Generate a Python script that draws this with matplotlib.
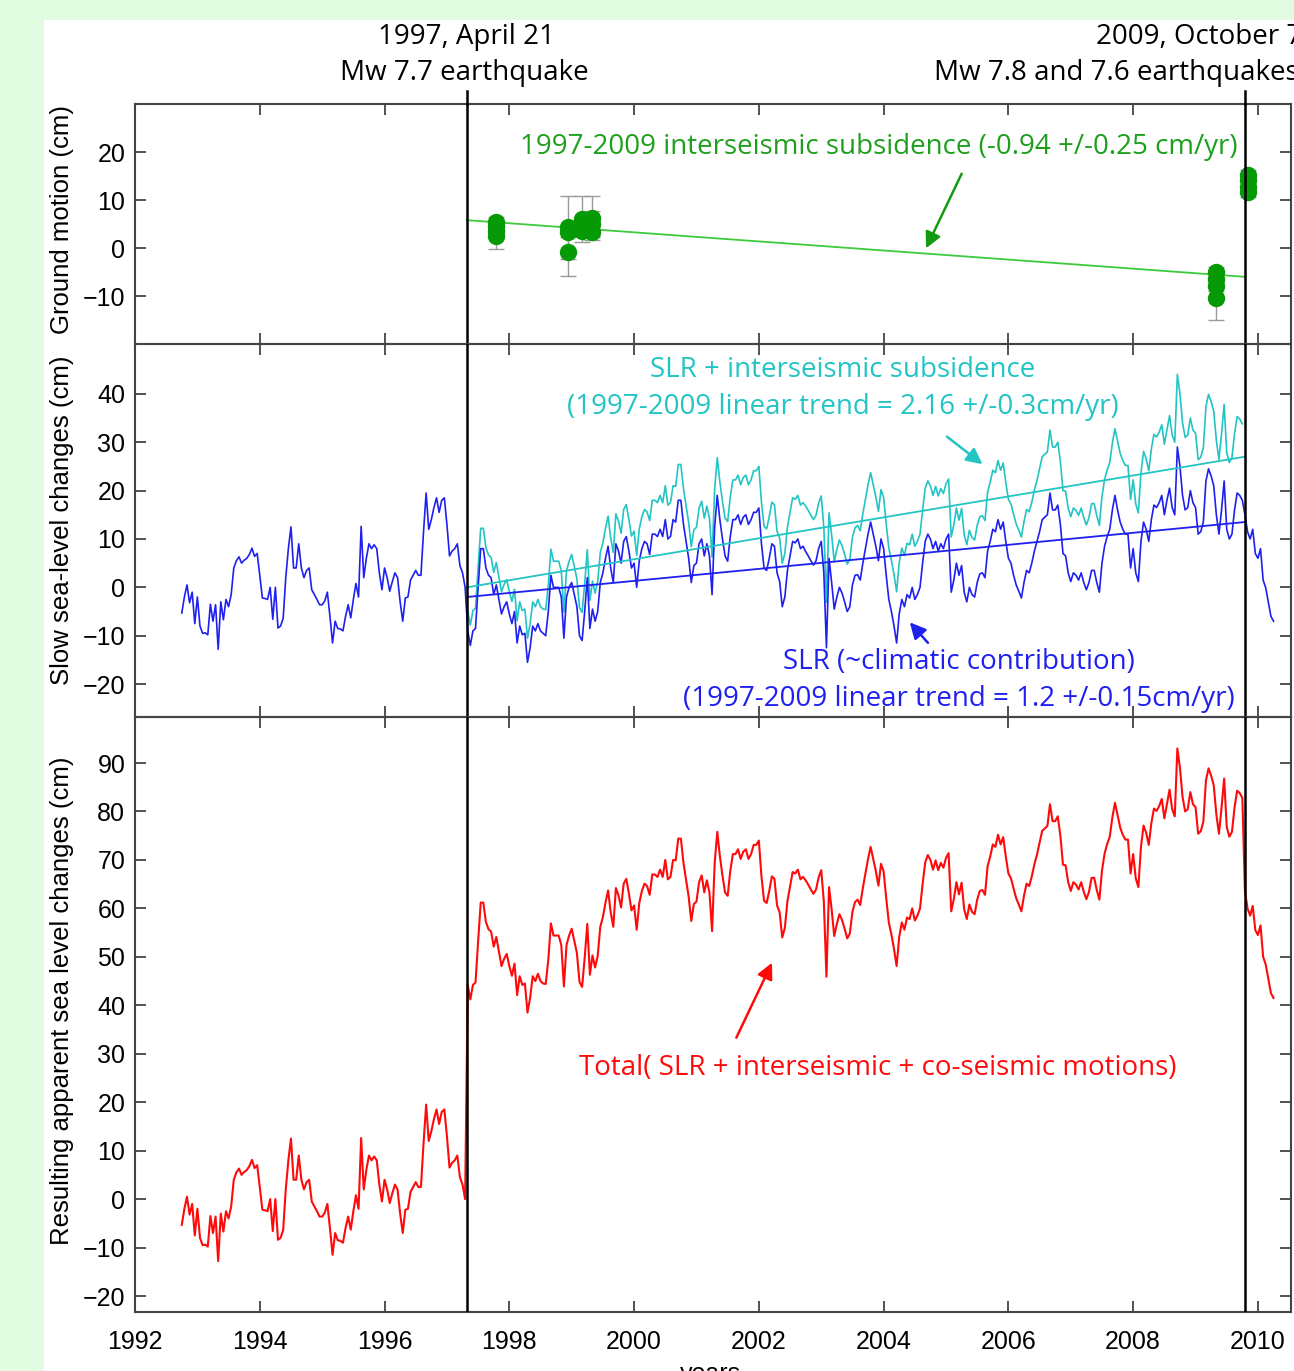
import numpy as np
import matplotlib.pyplot as plt
from matplotlib.patches import Rectangle

# --- data (cm), half-monthly samples starting 1992.75 ---
t_start = 1992.75
step = 1.0 / 24

slr_cm = [
    -5.3, -2.0, 0.5, -3.2, -1.0, -7.5, -2.0, -8.0, -9.5, -9.4,
    -9.8, -3.5, -7.0, -3.6, -12.8, -3.0, -6.7, -2.5, -4.0, -1.5,
    4.0, 5.5, 6.3, 5.0, 5.6, 6.0, 6.8, 8.1, 6.4, 7.0,
    2.5, -2.2, -2.3, -2.5, 0.0, -6.6, 0.0, -8.4, -8.0, -6.4,
    2.0, 8.0, 12.5, 4.0, 4.0, 9.0, 4.0, 2.0, 3.5, 4.0,
    -0.5, -1.5, -2.5, -3.6, -3.6, -2.8, -1.0, -6.0, -11.5, -7.0,
    -8.5, -8.6, -9.0, -6.0, -3.6, -6.3, -2.5, 0.8, -2.0, 12.6,
    2.0, 6.0, 9.0, 8.0, 8.8, 8.0, 3.0, -0.5, 4.0, 2.0,
    -0.8, 1.2, 3.0, 2.0, -3.0, -7.0, -2.2, -2.0, 1.5, 2.5,
    3.5, 2.5, 2.5, 11.5, 19.5, 12.0, 14.0, 16.5, 18.5, 15.5,
    18.0, 18.5, 13.0, 6.5, 7.5, 8.0, 9.0, 4.5, 3.0, 0.0,
    -9.0, -12.0, -9.0, -8.5, 0.0, 8.0, 8.0, 4.0, 2.5, 2.0,
    -1.5, 0.5, -2.5, -5.5, -4.0, -3.0, -5.5, -7.5, -5.0, -11.5,
    -8.0, -9.8, -9.5, -15.5, -12.5, -8.0, -9.0, -7.5, -9.0, -9.5,
    -10.0, -5.0, 2.5, 0.0, 0.0, 0.0, -2.0, -10.5, -2.0, 0.0,
    1.0, -1.5, -4.0, -10.0, -11.0, -5.0, 2.0, -8.5, -4.5, -7.0,
    -5.0, 1.0, 3.0, 6.0, 8.5, 4.0, 1.0, 9.0, 7.5, 5.0,
    9.5, 10.5, 7.5, 4.0, 5.0, 0.0, 5.5, 8.0, 9.5, 9.0,
    6.8, 11.0, 11.0, 10.5, 12.0, 10.5, 14.0, 10.0, 10.5, 14.0,
    13.5, 18.0, 18.0, 13.0, 9.5, 6.0, 1.0, 4.5, 5.0, 9.0,
    10.0, 6.5, 9.0, 6.5, -1.5, 12.5, 19.0, 14.0, 10.0, 6.5,
    5.4, 10.5, 14.0, 14.0, 15.0, 13.0, 14.5, 15.0, 13.0, 14.0,
    15.5, 15.5, 16.4, 9.0, 4.0, 3.5, 6.0, 9.0, 8.5, 3.0,
    1.2, -4.0, -2.0, 3.5, 6.5, 9.5, 9.2, 10.0, 8.0, 8.5,
    7.4, 6.5, 5.5, 4.6, 5.5, 8.0, 9.5, 3.0, -12.5, 6.0,
    1.0, -4.5, -2.0, 0.0, -1.2, -3.0, -5.0, -4.0, 0.5, 2.5,
    2.6, 1.5, 5.0, 8.0, 11.0, 13.5, 11.0, 8.5, 5.5, 10.0,
    8.0, 2.5, -2.5, -5.0, -8.0, -11.5, -5.5, -2.5, -4.0, -1.5,
    -2.2, 0.0, -2.5, -1.5, 0.0, 5.0, 9.5, 11.0, 10.0, 8.0,
    9.5, 7.5, 9.0, 8.0, 10.0, 11.0, -1.0, 1.5, 5.0, 2.5,
    4.5, -1.0, -3.0, 0.0, -1.5, -2.0, 1.0, 2.8, 3.0, 2.0,
    7.5, 9.5, 12.0, 11.5, 14.0, 12.0, 13.5, 9.5, 6.0, 5.0,
    2.5, 0.5, -0.8, -2.2, 1.0, 3.5, 3.0, 5.0, 7.5, 9.5,
    11.5, 14.0, 14.5, 15.0, 19.5, 16.0, 16.0, 17.0, 13.0, 7.0,
    6.5, 3.0, 1.2, 3.0, 2.5, 1.5, 3.0, 1.0, -0.5, 1.0,
    3.5, 3.5, 1.0, -1.0, 5.0, 8.5, 10.5, 12.0, 16.0, 19.0,
    16.0, 13.5, 12.0, 11.0, 11.0, 4.0, 8.0, 3.0, 1.2, 9.5,
    13.5, 12.0, 9.5, 14.0, 17.0, 16.5, 17.5, 19.0, 15.0, 18.0,
    20.5, 16.5, 15.0, 29.0, 25.0, 19.0, 16.0, 16.5, 20.0, 17.5,
    16.5, 11.0, 11.5, 13.5, 22.0, 24.5, 23.0, 21.0, 15.0, 11.0,
    16.0, 22.0, 12.0, 10.0, 11.0, 16.0, 19.5, 19.0, 18.0, 15.0,
    11.5, 10.0, 12.0, 7.0, 6.0, 8.0, 1.5, -0.1, -3.0, -6.0, -7.0,
]

# SLR + interseismic subsidence, from sample 110 (1997.33) to 408
subs_first = 110
slr_subs_cm = [
    -4.8, -7.8, -4.8, -4.3, 4.2, 12.2, 12.2, 8.2, 6.7, 6.2,
    3.1, 5.1, 2.1, -0.9, 0.6, 1.6, -0.9, -2.9, -0.4, -6.9,
    -3.0, -4.8, -4.5, -10.5, -7.5, -3.0, -4.0, -2.5, -4.0, -4.5,
    -4.6, 0.4, 7.9, 5.4, 5.4, 5.4, 3.4, -5.1, 3.4, 5.4,
    6.8, 4.3, 1.8, -4.2, -5.2, 0.8, 7.8, -2.7, 1.3, -1.2,
    1.2, 7.2, 9.2, 12.2, 14.7, 10.2, 7.2, 15.2, 13.7, 11.2,
    16.1, 17.1, 14.1, 10.6, 11.6, 6.6, 12.1, 14.6, 16.1, 15.6,
    13.8, 18.0, 18.0, 17.5, 19.0, 17.5, 21.0, 17.0, 17.5, 21.0,
    20.9, 25.4, 25.4, 20.4, 16.9, 13.4, 8.4, 11.9, 12.4, 16.4,
    17.8, 14.3, 16.8, 14.3, 6.3, 20.3, 26.8, 21.8, 17.8, 14.3,
    13.6, 18.7, 22.2, 22.2, 23.2, 21.2, 22.7, 23.2, 21.2, 22.2,
    24.1, 24.1, 25.0, 17.6, 12.6, 12.1, 14.6, 17.6, 17.1, 11.6,
    10.2, 5.0, 7.0, 12.5, 15.5, 18.5, 18.2, 19.0, 17.0, 17.5,
    16.8, 15.9, 14.9, 14.0, 14.9, 17.4, 18.9, 12.4, -3.1, 15.4,
    10.8, 5.3, 7.8, 9.8, 8.6, 6.8, 4.8, 5.8, 10.3, 12.3,
    12.8, 11.7, 15.2, 18.2, 21.2, 23.7, 21.2, 18.7, 15.7, 20.2,
    18.6, 13.1, 8.1, 5.6, 2.6, -0.9, 5.1, 8.1, 6.6, 9.1,
    8.8, 11.0, 8.5, 9.5, 11.0, 16.0, 20.5, 22.0, 21.0, 19.0,
    20.9, 18.9, 20.4, 19.4, 21.4, 22.4, 10.4, 12.9, 16.4, 13.9,
    16.3, 10.8, 8.8, 11.8, 10.3, 9.8, 12.8, 14.6, 14.8, 13.8,
    19.7, 21.7, 24.2, 23.7, 26.2, 24.2, 25.7, 21.7, 18.2, 17.2,
    15.1, 13.1, 11.8, 10.4, 13.6, 16.1, 15.6, 17.6, 20.1, 22.1,
    24.5, 27.0, 27.5, 28.0, 32.5, 29.0, 29.0, 30.0, 26.0, 20.0,
    19.9, 16.4, 14.6, 16.4, 15.9, 14.9, 16.4, 14.4, 12.9, 14.4,
    17.3, 17.3, 14.8, 12.8, 18.8, 22.3, 24.3, 25.8, 29.8, 32.8,
    30.2, 27.7, 26.2, 25.2, 25.2, 18.2, 22.2, 17.2, 15.4, 23.7,
    28.1, 26.6, 24.1, 28.6, 31.6, 31.1, 32.1, 33.6, 29.6, 32.6,
    35.5, 31.5, 30.0, 44.0, 40.0, 34.0, 31.0, 31.5, 35.0, 32.5,
    31.9, 26.4, 26.9, 28.9, 37.4, 39.9, 38.4, 36.4, 30.4, 26.4,
    31.8, 37.8, 27.8, 25.8, 26.8, 31.8, 35.3, 34.8, 33.8,
]

# total apparent sea level: before 1997 quake it is the SLR record itself
total_after_cm = [
    44.2, 41.2, 44.2, 44.7, 53.2, 61.2, 61.2, 57.2, 55.7, 55.2,
    52.1, 54.1, 51.1, 48.1, 49.6, 50.6, 48.1, 46.1, 48.6, 42.1,
    46.0, 44.2, 44.5, 38.5, 41.5, 46.0, 45.0, 46.5, 45.0, 44.5,
    44.4, 49.4, 56.9, 54.4, 54.4, 54.4, 52.4, 43.9, 52.4, 54.4,
    55.8, 53.3, 50.8, 44.8, 43.8, 49.8, 56.8, 46.3, 50.3, 47.8,
    50.2, 56.2, 58.2, 61.2, 63.7, 59.2, 56.2, 64.2, 62.7, 60.2,
    65.1, 66.1, 63.1, 59.6, 60.6, 55.6, 61.1, 63.6, 65.1, 64.6,
    62.8, 67.0, 67.0, 66.5, 68.0, 66.5, 70.0, 66.0, 66.5, 70.0,
    69.9, 74.4, 74.4, 69.4, 65.9, 62.4, 57.4, 60.9, 61.4, 65.4,
    66.8, 63.3, 65.8, 63.3, 55.3, 69.3, 75.8, 70.8, 66.8, 63.3,
    62.6, 67.7, 71.2, 71.2, 72.2, 70.2, 71.7, 72.2, 70.2, 71.2,
    73.1, 73.1, 74.0, 66.6, 61.6, 61.1, 63.6, 66.6, 66.1, 60.6,
    59.2, 54.0, 56.0, 61.5, 64.5, 67.5, 67.2, 68.0, 66.0, 66.5,
    65.8, 64.9, 63.9, 63.0, 63.9, 66.4, 67.9, 61.4, 45.9, 64.4,
    59.8, 54.3, 56.8, 58.8, 57.6, 55.8, 53.8, 54.8, 59.3, 61.3,
    61.8, 60.7, 64.2, 67.2, 70.2, 72.7, 70.2, 67.7, 64.7, 69.2,
    67.6, 62.1, 57.1, 54.6, 51.6, 48.1, 54.1, 57.1, 55.6, 58.1,
    57.8, 60.0, 57.5, 58.5, 60.0, 65.0, 69.5, 71.0, 70.0, 68.0,
    69.9, 67.9, 69.4, 68.4, 70.4, 71.4, 59.4, 61.9, 65.4, 62.9,
    65.3, 59.8, 57.8, 60.8, 59.3, 58.8, 61.8, 63.6, 63.8, 62.8,
    68.7, 70.7, 73.2, 72.7, 75.2, 73.2, 74.7, 70.7, 67.2, 66.2,
    64.1, 62.1, 60.8, 59.4, 62.6, 65.1, 64.6, 66.6, 69.1, 71.1,
    73.5, 76.0, 76.5, 77.0, 81.5, 78.0, 78.0, 79.0, 75.0, 69.0,
    68.9, 65.4, 63.6, 65.4, 64.9, 63.9, 65.4, 63.4, 61.9, 63.4,
    66.3, 66.3, 63.8, 61.8, 67.8, 71.3, 73.3, 74.8, 78.8, 81.8,
    79.2, 76.7, 75.2, 74.2, 74.2, 67.2, 71.2, 66.2, 64.4, 72.7,
    77.1, 75.6, 73.1, 77.6, 80.6, 80.1, 81.1, 82.6, 78.6, 81.6,
    84.5, 80.5, 79.0, 93.0, 89.0, 83.0, 80.0, 80.5, 84.0, 81.5,
    80.9, 75.4, 75.9, 77.9, 86.4, 88.9, 87.4, 85.4, 79.4, 75.4,
    80.8, 86.8, 76.8, 74.8, 75.8, 80.8, 84.3, 83.8, 82.8,
    63.5, 60.0, 58.5, 60.5, 55.5, 54.5, 56.5, 50.0, 48.4, 45.5, 42.5, 41.5,
]
total_cm = slr_cm[:subs_first] + total_after_cm

# GPS / ground motion points
gps_year = [1997.79, 1997.79, 1997.79, 1997.79,
            1998.94, 1998.94, 1998.94,
            1999.16, 1999.16, 1999.16,
            1999.33, 1999.33, 1999.33,
            2009.33, 2009.33, 2009.33, 2009.33,
            2009.84, 2009.84, 2009.84, 2009.84]
gps_cm = [5.5, 4.5, 3.5, 2.5,
          4.3, 3.3, -0.9,
          6.0, 4.8, 3.5,
          6.2, 5.0, 3.4,
          -5.0, -6.5, -8.0, -10.5,
          15.3, 14.2, 12.8, 11.6]
gps_err = [1.0, 1.0, 1.0, 2.7,
           6.5, 1.0, 5.0,
           4.8, 1.0, 1.0,
           4.6, 2.7, 1.0,
           1.0, 1.0, 1.0, 4.5,
           1.0, 1.0, 1.0, 1.0]

event_years = [1997.32, 2009.79]
trend_years = [1997.32, 2009.79]
ground_trend = [5.8, -6.0]
subs_trend = [0.0, 27.0]
slr_trend = [-2.0, 13.5]

# --- figure ---
W, H = 1294, 1371
fig = plt.figure(figsize=(W / 100, H / 100), dpi=100, facecolor='#e2fce2')
fig.patches.append(Rectangle((44 / W, 0), 1 - 44 / W, 1 - 20 / H,
                             transform=fig.transFigure, facecolor='white',
                             edgecolor='none', zorder=-10))

tick_font = 'Liberation Sans'
note_font = 'Open Sans'
note_size = 20
green_txt = '#1ea01e'
cyan = '#22c4c4'
blue = '#1f1ff0'
red = '#ff0a0a'

left = 135 / W
width = (1291 - 135) / W
ax_top = fig.add_axes([left, 1 - 344 / H, width, 240 / H])
ax_mid = fig.add_axes([left, 1 - 717 / H, width, 373 / H])
ax_bot = fig.add_axes([left, 1 - 1312 / H, width, 595 / H])

for ax in (ax_top, ax_mid, ax_bot):
    ax.set_facecolor('none')
    ax.set_xlim(1992, 2010.53)
    ax.set_xticks(np.arange(1992, 2011, 2))
    ax.tick_params(direction='in', length=8, width=1.2, top=True, right=True,
                   labelsize=18, pad=7, colors='#333333', labelcolor='black')
    ax.tick_params(axis='x', pad=13)
    for s in ax.spines.values():
        s.set_color('#444444')
        s.set_linewidth(1.5)
    for ev in event_years:
        ax.axvline(ev, color='black', lw=1.8, zorder=5)

ax_top.tick_params(labelbottom=False)
ax_mid.tick_params(labelbottom=False)

# top panel: ground motion
ax_top.set_ylim(-20, 30)
ax_top.set_yticks([-10, 0, 10, 20])
for ev in event_years:
    ax_top.plot([ev, ev], [30, 32.7], color='black', lw=1.8, clip_on=False, zorder=5)
ax_top.plot(trend_years, ground_trend, color='#3ccc3c', lw=1.3, zorder=3)
ax_top.errorbar(gps_year, gps_cm, yerr=gps_err, fmt='o', color='#079a07',
                ms=11.5, ecolor='#9a9a9a', elinewidth=1.0, capsize=6, capthick=1.0,
                zorder=4)
ax_top.text(2003.93, 21.0, '1997-2009 interseismic subsidence (-0.94 +/-0.25 cm/yr)',
            color=green_txt, fontsize=note_size, family=note_font, ha='center', va='center')
ax_top.annotate('', xy=(2004.66, -0.6), xytext=(2005.27, 16.0),
                arrowprops=dict(arrowstyle='-|>', color='#139a13', lw=1.8,
                                mutation_scale=24))

# middle panel: slow sea-level changes
ax_mid.set_ylim(-26.8, 50.3)
ax_mid.set_yticks(np.arange(-20, 41, 10))
t_slr = t_start + np.arange(len(slr_cm)) * step
t_subs = t_start + (subs_first + np.arange(len(slr_subs_cm))) * step
ax_mid.plot(t_subs, slr_subs_cm, color=cyan, lw=1.2, zorder=2)
ax_mid.plot(t_slr, slr_cm, color=blue, lw=1.2, zorder=3)
ax_mid.plot(trend_years, subs_trend, color=cyan, lw=1.3, zorder=4)
ax_mid.plot(trend_years, slr_trend, color=blue, lw=1.3, zorder=4)
ax_mid.text(2003.35, 45.0, 'SLR + interseismic subsidence', color=cyan,
            fontsize=note_size, family=note_font, ha='center', va='center')
ax_mid.text(2003.35, 37.3, '(1997-2009 linear trend = 2.16 +/-0.3cm/yr)', color=cyan,
            fontsize=note_size, family=note_font, ha='center', va='center')
ax_mid.text(2005.21, -15.5, 'SLR (~climatic contribution)', color=blue,
            fontsize=note_size, family=note_font, ha='center', va='center')
ax_mid.text(2005.21, -23.1, '(1997-2009 linear trend = 1.2 +/-0.15cm/yr)', color=blue,
            fontsize=note_size, family=note_font, ha='center', va='center')
ax_mid.annotate('', xy=(2005.62, 25.1), xytext=(2004.98, 31.5),
                arrowprops=dict(arrowstyle='-|>', color=cyan, lw=1.8, mutation_scale=24))
ax_mid.annotate('', xy=(2004.39, -6.8), xytext=(2004.74, -11.9),
                arrowprops=dict(arrowstyle='-|>', color=blue, lw=1.8, mutation_scale=24))

# bottom panel: total apparent change
ax_bot.set_ylim(-23.3, 99.5)
ax_bot.set_yticks(np.arange(-20, 91, 10))
t_tot = t_start + np.arange(len(total_cm)) * step
ax_bot.plot(t_tot, total_cm, color=red, lw=1.5, zorder=3)
ax_bot.text(2003.91, 27.0, 'Total( SLR + interseismic + co-seismic motions)', color=red,
            fontsize=note_size, family=note_font, ha='center', va='center')
ax_bot.annotate('', xy=(2002.23, 49.3), xytext=(2001.62, 32.8),
                arrowprops=dict(arrowstyle='-|>', color=red, lw=1.8, mutation_scale=24))

for ax in (ax_top, ax_mid, ax_bot):
    for lab in ax.get_xticklabels() + ax.get_yticklabels():
        lab.set_family(tick_font)

# axis labels
fig.text(62 / W, 1 - 220 / H, 'Ground motion (cm)', rotation=90, fontsize=18.5,
         family=tick_font, ha='center', va='center')
fig.text(62 / W, 1 - 520 / H, 'Slow sea-level changes (cm)', rotation=90, fontsize=18.5,
         family=tick_font, ha='center', va='center')
fig.text(62 / W, 1 - 1001 / H, 'Resulting apparent sea level changes (cm)', rotation=90,
         fontsize=18.5, family=tick_font, ha='center', va='center')
fig.text(710 / W, 1 - 1362 / H, 'years', fontsize=18, family=tick_font,
         ha='center', va='top')

# earthquake headings
fig.text(466 / W, 1 - 37 / H, '1997, April 21', fontsize=note_size, family=note_font,
         ha='center', va='center')
fig.text(464 / W, 1 - 73 / H, 'Mw 7.7 earthquake', fontsize=note_size, family=note_font,
         ha='center', va='center')
fig.text(1096 / W, 1 - 37 / H, '2009, October 7', fontsize=note_size, family=note_font,
         ha='left', va='center')
fig.text(934 / W, 1 - 73 / H, 'Mw 7.8 and 7.6 earthquakes', fontsize=note_size,
         family=note_font, ha='left', va='center')

fig.savefig('out.png', dpi=100, facecolor=fig.get_facecolor())
